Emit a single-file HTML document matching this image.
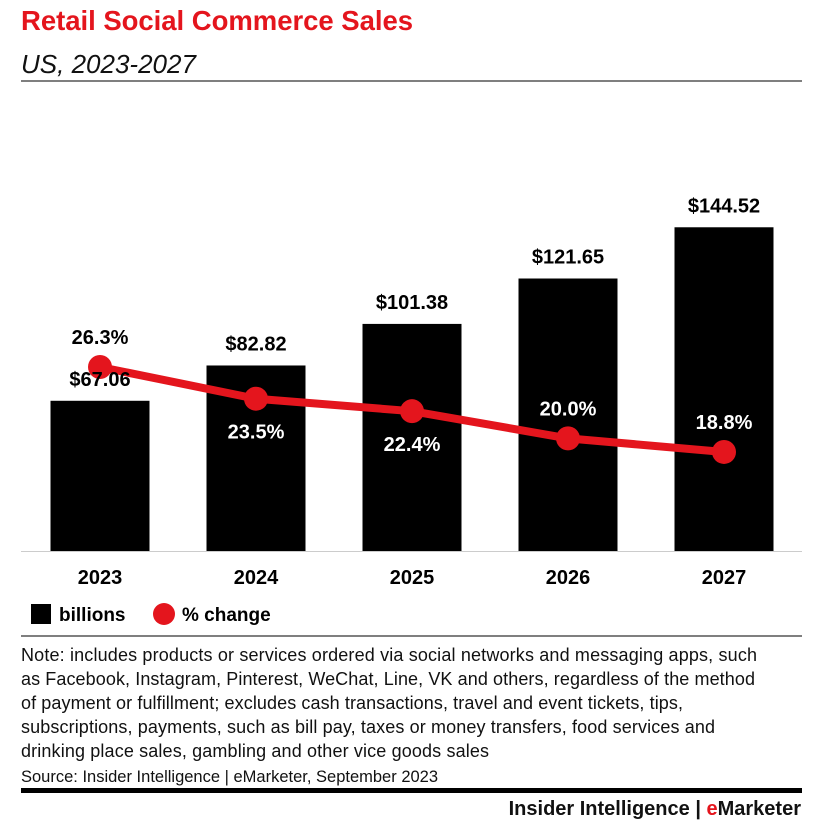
<!DOCTYPE html>
<html><head><meta charset="utf-8"><style>
body{margin:0;background:#fff;width:824px;height:834px;overflow:hidden;font-family:"Liberation Sans",sans-serif;}
</style></head><body>
<svg width="824" height="834" xmlns="http://www.w3.org/2000/svg" font-family="Liberation Sans, sans-serif">
<text x="21" y="30" font-size="27.5" font-weight="bold" fill="#e4151d" textLength="392">Retail Social Commerce Sales</text>
<text x="21" y="73" font-size="26" font-style="italic" fill="#111">US, 2023-2027</text>
<line x1="21" y1="81" x2="802" y2="81" stroke="#333" stroke-width="1.2"/>
<line x1="21" y1="551.5" x2="802" y2="551.5" stroke="#ccc" stroke-width="1"/>
<g id="bars"></g><g id="line"></g><g id="labels"></g>
<rect x="31" y="604" width="20" height="20" fill="#000"/>
<text x="59" y="621" font-size="19" font-weight="bold">billions</text>
<circle cx="164" cy="614" r="11" fill="#e4151d"/>
<text x="182" y="621" font-size="19" font-weight="bold">% change</text>
<line x1="21" y1="636" x2="802" y2="636" stroke="#333" stroke-width="1.2"/>
<g font-size="18" fill="#111">
<text x="21" y="661" textLength="736">Note: includes products or services ordered via social networks and messaging apps, such</text>
<text x="21" y="685" textLength="734">as Facebook, Instagram, Pinterest, WeChat, Line, VK and others, regardless of the method</text>
<text x="21" y="709" textLength="662">of payment or fulfillment; excludes cash transactions, travel and event tickets, tips,</text>
<text x="21" y="733" textLength="694">subscriptions, payments, such as bill pay, taxes or money transfers, food services and</text>
<text x="21" y="757" textLength="468">drinking place sales, gambling and other vice goods sales</text>
</g>
<text x="21" y="782" font-size="16.5" fill="#111">Source: Insider Intelligence | eMarketer, September 2023</text>
<rect x="21" y="788" width="781" height="5" fill="#000"/>
<text x="801" y="815" font-size="20" font-weight="bold" text-anchor="end" fill="#111">Insider Intelligence | <tspan fill="#e4151d">e</tspan>Marketer</text>
</svg>
<script>
const years=["2023","2024","2025","2026","2027"];
const sales=[67.06,82.82,101.38,121.65,144.52];
const salesLabels=["$67.06","$82.82","$101.38","$121.65","$144.52"];
const pct=[26.3,23.5,22.4,20.0,18.8];
const pctLabels=["26.3%","23.5%","22.4%","20.0%","18.8%"];
const pctAbove=[true,false,false,true,true];
const NS="http://www.w3.org/2000/svg";
const xc=i=>100+i*156;
const yBar=v=>551-v*2.24;
const yPct=v=>367+(26.3-v)*11.33;
function mk(t,a,p){const e=document.createElementNS(NS,t);for(const k in a)e.setAttribute(k,a[k]);p.appendChild(e);return e;}
const gb=document.getElementById('bars'),gl=document.getElementById('line'),gt=document.getElementById('labels');
years.forEach((y,i)=>{
 const r=mk('rect',{x:xc(i)-49.5,y:yBar(sales[i]),width:99,height:551-yBar(sales[i]),fill:'#000'},gb);
 
 
 const t=mk('text',{x:xc(i),y:yBar(sales[i])-15,'font-size':20,'font-weight':'bold','text-anchor':'middle',fill:'#000'},gt);
 t.textContent=salesLabels[i];
 
 
 const x=mk('text',{x:xc(i),y:584,'font-size':20,'font-weight':'bold','text-anchor':'middle',fill:'#000'},gt);
 x.textContent=y;
 
 
});
const pl=mk('polyline',{points:years.map((y,i)=>xc(i)+','+yPct(pct[i])).join(' '),fill:'none',stroke:'#e4151d','stroke-width':8,'stroke-linejoin':'round'},gl);


years.forEach((y,i)=>{
 const c=mk('circle',{cx:xc(i),cy:yPct(pct[i]),r:12,fill:'#e4151d'},gl);
 
 
 const yy=pctAbove[i]?yPct(pct[i])-23:yPct(pct[i])+40;
 const t=mk('text',{x:xc(i),y:yy,'font-size':20,'font-weight':'bold','text-anchor':'middle',fill:pctAbove[i]&&i==0?'#000':'#fff'},gt);
 t.textContent=pctLabels[i];
 
 
});
</script>
</body></html>
